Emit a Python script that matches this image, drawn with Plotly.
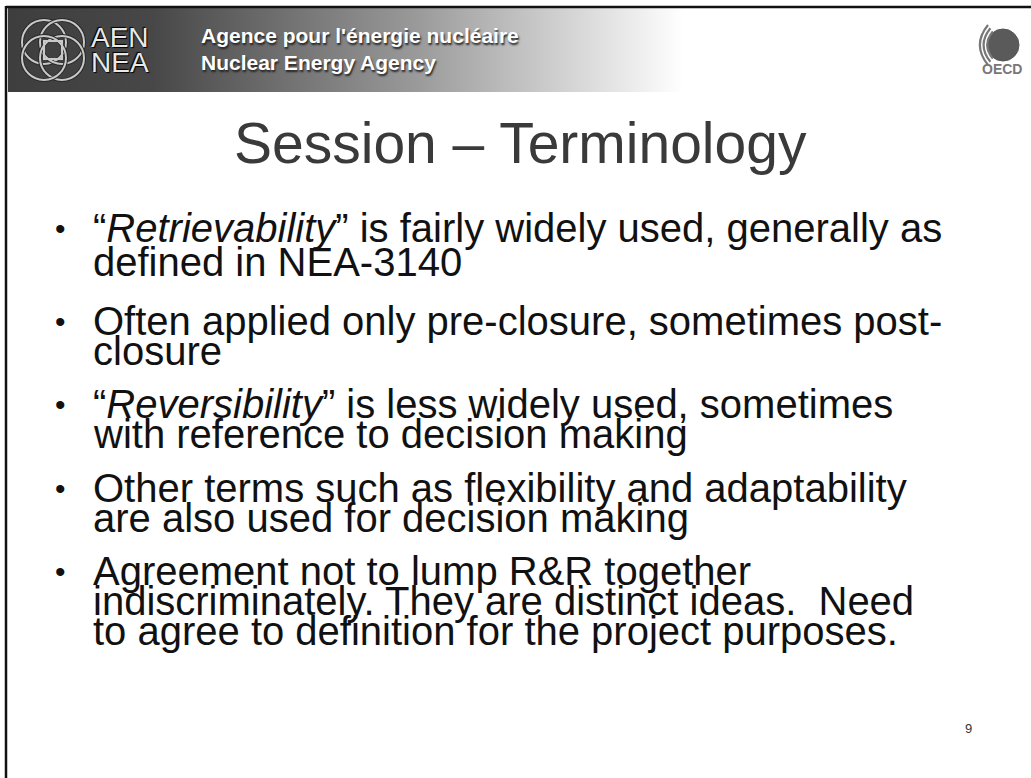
import plotly.graph_objects as go

W, H = 1031, 778

header_lines = ["Agence pour l'énergie nucléaire", "Nuclear Energy Agency"]
logo_lines = ["AEN", "NEA"]
title_text = "Session – Terminology"
bullets = [
    ["“<i>Retrievability</i>” is fairly widely used, generally as", "defined in NEA-3140"],
    ["Often applied only pre-closure, sometimes post-", "closure"],
    ["“<i>Reversibility</i>” is less widely used, sometimes", "with reference to decision making"],
    ["Other terms such as flexibility and adaptability", "are also used for decision making"],
    ["Agreement not to lump R&amp;R together",
     "indiscriminately. They are distinct ideas.&nbsp; Need",
     "to agree to definition for the project purposes."],
]
page_number = "9"
oecd_label = "OECD"

FONT = "Liberation Sans, Arial, sans-serif"

fig = go.Figure()

# header gradient band
fig.add_trace(go.Scatter(
    x=[8, W, W, 8, 8], y=[8, 8, 92, 92, 8], mode="lines", fill="toself",
    line=dict(width=0), hoverinfo="skip", showlegend=False,
    fillgradient=dict(type="horizontal",
                      colorscale=[[0, "#3e3e3e"], [0.14, "#474747"], [0.40, "#9a9a9a"],
                                  [0.66, "#ffffff"], [1, "#ffffff"]]),
))

shapes = []
# frame lines
shapes.append(dict(type="line", xref="x", yref="y", x0=6, x1=W, y0=7, y1=7,
                   line=dict(color="#111", width=2.5)))
shapes.append(dict(type="line", xref="x", yref="y", x0=6, x1=6, y0=6, y1=H,
                   line=dict(color="#111", width=2.5)))
# swirl logo (decorative)
cx, cy = 53, 50
for dx, dy in [(-9, -8), (9, -8), (9, 8), (-9, 8)]:
    shapes.append(dict(type="circle", xref="x", yref="y",
                       x0=cx + dx - 22, x1=cx + dx + 22, y0=cy + dy - 22, y1=cy + dy + 22,
                       line=dict(color="#2a2a2a", width=4)))
    shapes.append(dict(type="circle", xref="x", yref="y",
                       x0=cx + dx - 22, x1=cx + dx + 22, y0=cy + dy - 22, y1=cy + dy + 22,
                       line=dict(color="#c8c8c8", width=2)))
shapes.append(dict(type="rect", xref="x", yref="y", x0=cx - 9, x1=cx + 9, y0=cy - 9, y1=cy + 9,
                   line=dict(color="#c8c8c8", width=2)))
# OECD logo (decorative)
shapes.append(dict(type="rect", xref="x", yref="y", x0=968, x1=1030, y0=20, y1=78,
                   line=dict(width=0), fillcolor="#f6f6f6", layer="below"))
shapes.append(dict(type="circle", xref="x", yref="y", x0=987, x1=1019, y0=29, y1=61,
                   line=dict(color="#555", width=1), fillcolor="#5a5a5a"))
for r in (17, 21, 25):
    shapes.append(dict(type="path", xref="x", yref="y",
                       path=f"M {1003 - r*0.6} {45 - r*0.8} Q {1003 - r*1.25} 45 {1003 - r*0.6} {45 + r*0.8}",
                       line=dict(color="#777", width=2.2)))
fig.update_layout(shapes=shapes)

ann = []
# header text
for i, t in enumerate(header_lines):
    base = 43 + 27 * i
    ann.append(dict(x=199, y=base - 0.35 * 21, text=t, xanchor="left", yanchor="middle",
                    showarrow=False,
                    font=dict(family=FONT, size=21, color="#ffffff", weight=600,
                              shadow="1px 2px 2px #222")))
for i, t in enumerate(logo_lines):
    base = 47 + 25 * i
    ann.append(dict(x=89, y=base - 0.35 * 28, text=t, xanchor="left", yanchor="middle",
                    showarrow=False,
                    font=dict(family=FONT, size=28, color="#e8e8e8",
                              shadow="1px 1px 1px #000, -1px -1px 1px #000")))
ann.append(dict(x=1002, y=69, text=oecd_label, xanchor="center", yanchor="middle",
                showarrow=False, font=dict(family=FONT, size=14, color="#777", weight=700)))
# title
ann.append(dict(x=520, y=163 - 0.35 * 57, text=title_text, xanchor="center", yanchor="middle",
                showarrow=False, font=dict(family=FONT, size=57, color="#3a3a3a")))
# bullets
FS = 40
first_baselines = [242, 335, 418, 502, 585]
step = 30
for p, lines in enumerate(bullets):
    b0 = first_baselines[p]
    ann.append(dict(x=60, y=b0 - 0.35 * FS, text="•", xanchor="center", yanchor="middle",
                    showarrow=False, font=dict(family=FONT, size=30, color="#111")))
    for j, t in enumerate(lines):
        ann.append(dict(x=91, y=b0 + step * j + (4 if (p == 0 and j == 1) else 0) - 0.35 * FS,
                        text=t, xanchor="left", yanchor="middle", showarrow=False,
                        font=dict(family=FONT, size=FS, color="#111")))
# page number
ann.append(dict(x=968, y=728, text=page_number, xanchor="center", yanchor="middle",
                showarrow=False, font=dict(family=FONT, size=13, color="#333")))

fig.update_layout(
    annotations=ann,
    width=W, height=H,
    margin=dict(l=0, r=0, t=0, b=0),
    paper_bgcolor="white", plot_bgcolor="white",
    xaxis=dict(range=[0, W], visible=False, fixedrange=True),
    yaxis=dict(range=[H, 0], visible=False, fixedrange=True),
    showlegend=False,
)
fig.write_html("out.html", config={"displayModeBar": False},
               post_script="document.body.style.margin='0';document.body.style.overflow='hidden';")
